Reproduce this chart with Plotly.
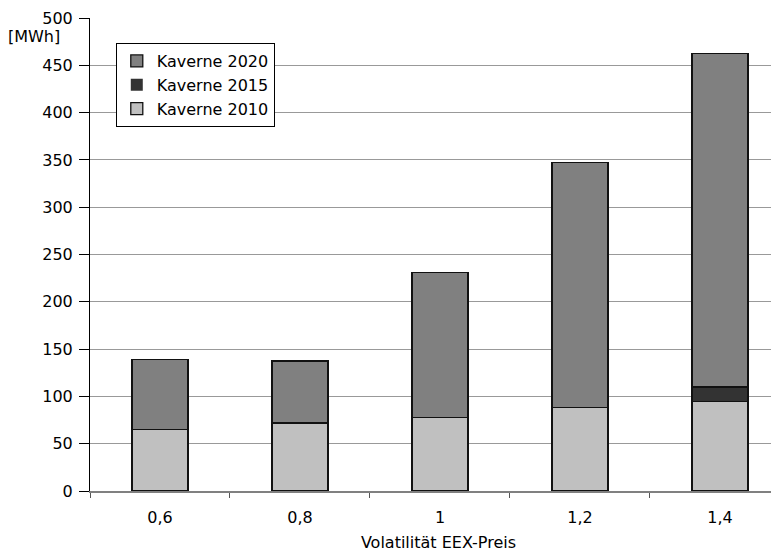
import plotly.graph_objects as go

categories = ["0,6", "0,8", "1", "1,2", "1,4"]
kaverne_2010 = [65, 72, 78, 88.5, 94.5]
kaverne_2015 = [0, 0, 0, 0, 15.5]
kaverne_2020 = [74, 65.5, 153, 258.5, 352.5]

y_ticks = list(range(0, 501, 50))

FONT = "DejaVu Sans"
FS = 16

fig = go.Figure()
series = [
    ("Kaverne 2010", kaverne_2010, "#c0c0c0"),
    ("Kaverne 2015", kaverne_2015, "#333333"),
    ("Kaverne 2020", kaverne_2020, "#808080"),
]
for name, vals, col in series:
    # no outline on zero-height segments
    lw = [1.3 if v > 0 else 0 for v in vals]
    fig.add_trace(go.Bar(
        x=categories, y=vals, name=name, width=0.4,
        marker=dict(color=col, line=dict(color="#111111", width=lw)),
    ))

# page body has an 8px default margin; compensate in the figure margins
fig.update_layout(
    width=779, height=554,
    barmode="stack",
    plot_bgcolor="white", paper_bgcolor="white",
    margin=dict(l=82, r=0, t=10, b=71, autoexpand=False),
    font=dict(family=FONT, size=FS, color="black"),
    legend=dict(
        x=0.037, y=0.947, xanchor="left", yanchor="top",
        traceorder="reversed",
        bordercolor="black", borderwidth=1, bgcolor="white",
        font=dict(family=FONT, size=FS),
        itemwidth=30, tracegroupgap=0,
    ),
    showlegend=True,
)
fig.update_xaxes(
    type="category", range=[-0.5, 4.479], automargin=False,
    tickson="boundaries", ticks="outside", ticklen=5, tickcolor="#555555",
    showline=True, linecolor="#808080", linewidth=2,
    showgrid=False,
    ticklabelstandoff=11,
    title=dict(text="Volatilität EEX-Preis", font=dict(family=FONT, size=FS), standoff=11),
    tickfont=dict(family=FONT, size=FS),
)
fig.update_yaxes(
    range=[0, 500], tickvals=y_ticks, automargin=False,
    ticks="outside", ticklen=10, tickcolor="black",
    showline=True, linecolor="black", linewidth=1,
    showgrid=True, gridcolor="#999999", gridwidth=1,
    zeroline=False,
    ticklabelstandoff=3,
    tickfont=dict(family=FONT, size=FS),
)
fig.add_annotation(
    text="[MWh]", xref="paper", yref="y", x=-0.04, y=480,
    xanchor="right", yanchor="middle", showarrow=False,
    font=dict(family=FONT, size=FS),
)
fig.write_html("out.html")
